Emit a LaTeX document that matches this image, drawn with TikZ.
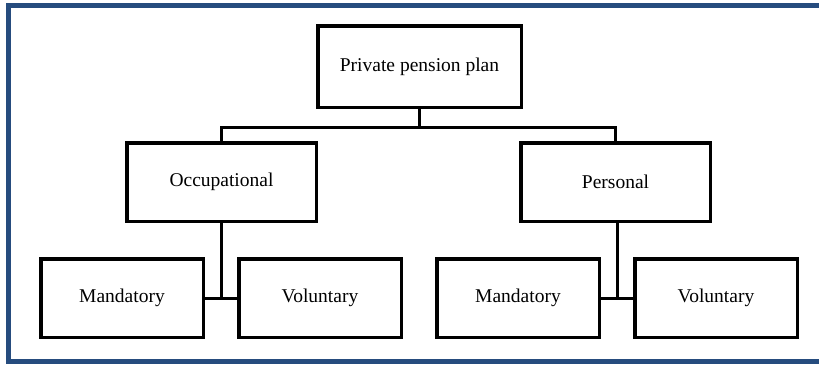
\documentclass[tikz,border=0pt]{standalone}
\usepackage{fontspec}
\setmainfont{Liberation Serif}
\definecolor{framecol}{RGB}{38,76,126}
\begin{document}
\begin{tikzpicture}[x=1pt,y=-1pt,
  box/.style={draw=black,line width=3.5pt,fill=white,inner sep=0pt,
    minimum height=78.5pt,font=\fontsize{19.5}{22}\selectfont},
  link/.style={draw=black,line width=3pt}]
\useasboundingbox (0,0) rectangle (819,365);
% outer frame (right side runs past the page edge)
\draw[framecol,line width=5pt] (830,5.5) -- (8.5,5.5) -- (8.5,361) -- (830,361);
% boxes
\node[box,minimum width=203.5pt,minimum height=81.5pt] (top) at (419.5,66.5) {Private pension plan};
\node[box,minimum width=189.5pt] (occ) at (221.5,182) {Occupational};
\node[box,minimum width=189.5pt] (pers) at (615.5,182) {Personal};
\node[box,minimum width=162.5pt] (mandL) at (122,298) {Mandatory};
\node[box,minimum width=162.5pt] (volL) at (320,298) {Voluntary};
\node[box,minimum width=162.5pt] (mandR) at (518,298) {Mandatory};
\node[box,minimum width=162.5pt] (volR) at (716,298) {Voluntary};
% connectors
\coordinate (bus) at (419.5,127);
\coordinate (lowL) at (221.5,298);
\coordinate (lowR) at (617,298);
\draw[link] (top.south) -- (bus) -| (occ.north);
\draw[link] (bus) -| (pers.north);
\draw[link] (occ.south) -- (lowL);
\draw[link] (mandL.east) -- (volL.west);
\draw[link] (pers.south -| lowR) -- (lowR);
\draw[link] (mandR.east) -- (volR.west);
\end{tikzpicture}
\end{document}
